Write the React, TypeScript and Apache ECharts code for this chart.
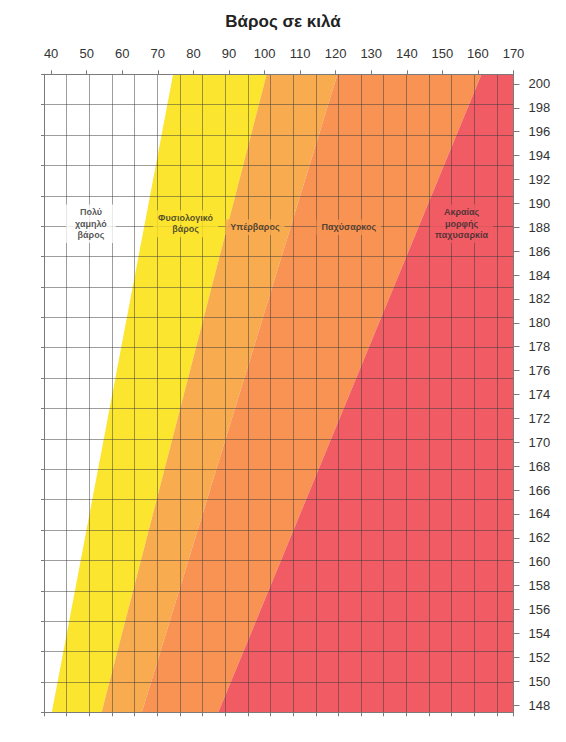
import React, { useEffect, useRef } from "react";
import * as echarts from "echarts";

// ---- data ----
const titleText = "Βάρος σε κιλά";
const kgTicks = [40, 50, 60, 70, 80, 90, 100, 110, 120, 130, 140, 150, 160, 170];
const cmTicks = [148, 150, 152, 154, 156, 158, 160, 162, 164, 166, 168, 170, 172, 174, 176, 178, 180, 182, 184, 186, 188, 190, 192, 194, 196, 198, 200];
const kgRange = [38, 170];
const cmRange = [147.4, 200.8];
// band boundaries (kg) at the bottom (147.4 cm) and the top (200.8 cm) of the chart
const boundaryAtBottom = [40.2, 54.2, 65.5, 87.0];
const boundaryAtTop = [74.3, 100.6, 120.5, 161.0];
const bandLabels = [
  "Πολύ\nχαμηλό\nβάρος",
  "Φυσιολογικό\nβάρος",
  "Υπέρβαρος",
  "Παχύσαρκος",
  "Ακραίας\nμορφής\nπαχυσαρκία",
];
const labelKg = [51.2, 77.8, 97.3, 123.7, 155.4];
const labelCm = [188.3, 188.3, 188.0, 188.0, 188.3];
// background grid divisions (independent of the value scales)
const gridColumns = 20.73;
const gridRows = 21;

const bandColors = ["#ffffff", "#fce52f", "#f9ab4f", "#f89353", "#f15b64"];
const FONT = "Arial, 'Liberation Sans', sans-serif";

export default function App() {
  const ref = useRef<HTMLDivElement>(null);

  useEffect(() => {
    if (!ref.current) return;
    const chart = echarts.init(ref.current, undefined, { renderer: "svg" });

    const bandData = bandLabels.map((_, i) => {
      const lb = i === 0 ? kgRange[0] : boundaryAtBottom[i - 1];
      const lt = i === 0 ? kgRange[0] : boundaryAtTop[i - 1];
      const rb = i === bandLabels.length - 1 ? kgRange[1] : boundaryAtBottom[i];
      const rt = i === bandLabels.length - 1 ? kgRange[1] : boundaryAtTop[i];
      return [lb, rb, lt, rt];
    });

    const labelData = bandLabels.map((name, i) => ({
      name,
      value: [labelKg[i], labelCm[i]],
      label: {
        backgroundColor: bandColors[i],
        padding: i === 0 ? [2, 9] : [2, 5],
      },
    }));

    const gridLine = { show: true, lineStyle: { color: "rgba(60,60,60,0.5)", width: 1 } };
    const border = { show: true, onZero: false, lineStyle: { color: "#7a7a7a", width: 1 } };

    chart.setOption({
      animation: false,
      backgroundColor: "#ffffff",
      title: {
        text: titleText,
        left: "center",
        top: 8,
        textStyle: { fontSize: 17, fontWeight: "bold", color: "#222", fontFamily: FONT },
      },
      grid: { left: 44, right: 52.5, top: 74.3, bottom: 29.7 },
      xAxis: [
        {
          type: "value",
          position: "top",
          min: kgRange[0],
          max: kgRange[1],
          z: 5,
          axisLine: border,
          axisTick: { show: true, inside: false, length: 4, customValues: kgTicks, lineStyle: { color: "#7a7a7a" } },
          axisLabel: { show: true, customValues: kgTicks, margin: 14, fontSize: 13, color: "#333", fontFamily: FONT },
          splitLine: { show: false },
        },
        {
          type: "value",
          position: "bottom",
          min: 0,
          max: gridColumns,
          interval: 1,
          z: 5,
          axisLine: border,
          axisTick: { show: true, length: 4, lineStyle: { color: "#7a7a7a" } },
          axisLabel: { show: false },
          splitLine: gridLine,
        },
      ],
      yAxis: [
        {
          type: "value",
          position: "right",
          min: cmRange[0],
          max: cmRange[1],
          z: 5,
          axisLine: border,
          axisTick: { show: true, length: 6, customValues: cmTicks, lineStyle: { color: "#7a7a7a" } },
          axisLabel: { show: true, customValues: cmTicks, margin: 15, fontSize: 13, color: "#333", fontFamily: FONT },
          splitLine: { show: false },
        },
        {
          type: "value",
          position: "left",
          min: 0,
          max: gridRows,
          interval: 1,
          z: 5,
          axisLine: border,
          axisTick: { show: true, length: 3, lineStyle: { color: "#7a7a7a" } },
          axisLabel: { show: false },
          splitLine: gridLine,
        },
      ],
      series: [
        {
          type: "custom",
          xAxisIndex: 0,
          yAxisIndex: 0,
          z: 1,
          silent: true,
          data: bandData,
          renderItem: (params: any, api: any) => {
            const i = params.dataIndex;
            const lb = api.value(0);
            const rb = api.value(1);
            const lt = api.value(2);
            const rt = api.value(3);
            const points = [
              api.coord([lb, cmRange[0]]),
              api.coord([rb, cmRange[0]]),
              api.coord([rt, cmRange[1]]),
              api.coord([lt, cmRange[1]]),
            ];
            return {
              type: "polygon",
              shape: { points },
              style: { fill: bandColors[i], stroke: null },
            };
          },
        },
        {
          type: "scatter",
          xAxisIndex: 0,
          yAxisIndex: 0,
          z: 10,
          symbolSize: 0,
          silent: true,
          data: labelData,
          label: {
            show: true,
            position: "inside",
            formatter: (p: any) => p.name,
            fontSize: 9,
            fontWeight: "bold",
            lineHeight: 11.5,
            color: "#2a2a2a",
            fontFamily: FONT,
            align: "center",
          },
        },
      ],
    });

    return () => chart.dispose();
  }, []);

  return (
    <div
      ref={ref}
      style={{ position: "fixed", left: 0, top: 0, width: 566, height: 742, background: "#fff" }}
    />
  );
}
